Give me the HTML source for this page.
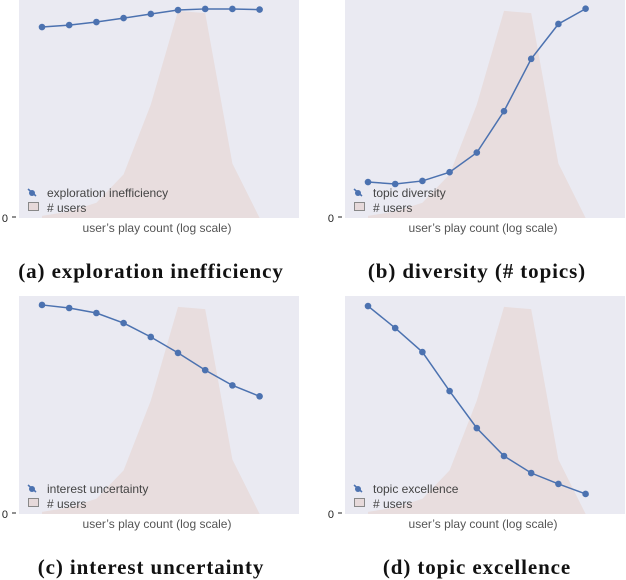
<!DOCTYPE html>
<html><head><meta charset="utf-8"><style>
html,body{margin:0;padding:0;background:#fff;}
svg{display:block;font-family:"Liberation Sans",sans-serif;}
.cap{font-family:"Liberation Serif",serif;font-weight:bold;font-size:21px;letter-spacing:0.9px;fill:#111;}
</style></head><body>
<svg id="chart" width="626" height="580" viewBox="0 0 626 580"></svg>
<script>
const positions = [0,1,2,3,4,5,6,7,8];
const areaPositions = [0,1,2,3,4,5,6,7,8,9];
const userCounts = [0.01,0.03,0.07,0.2,0.52,0.95,0.94,0.25,0.0,0.0];
const seriesA = [0.876,0.885,0.899,0.917,0.936,0.954,0.959,0.959,0.956];
const seriesB = [0.165,0.156,0.17,0.21,0.30,0.49,0.73,0.89,0.96];
const seriesC = [0.959,0.945,0.922,0.876,0.812,0.739,0.66,0.59,0.54];
const seriesD = [0.954,0.853,0.743,0.564,0.394,0.266,0.188,0.138,0.092];
const labels = ["exploration inefficiency","topic diversity","interest uncertainty","topic excellence"];
const captions = ["(a) exploration inefficiency","(b) diversity (# topics)","(c) interest uncertainty","(d) topic excellence"];
const allSeries = [seriesA,seriesB,seriesC,seriesD];

const NS="http://www.w3.org/2000/svg";
const svg=document.getElementById('chart');
function mk(tag,attrs,parent){const e=document.createElementNS(NS,tag);for(const k in attrs)e.setAttribute(k,attrs[k]);(parent||svg).appendChild(e);return e;}
const panels=[{x:19,y:0},{x:345,y:0},{x:19,y:296},{x:345,y:296}];
const W=280,H=218;
panels.forEach((p,pi)=>{
  const g=mk('g',{});
  
  
  const xs=i=>p.x+23+i*27.2;
  const ys=v=>p.y+H-v*H;
  const bg=mk('rect',{x:p.x,y:p.y,width:W,height:H,fill:'#eaeaf2'},g);
  
  
  let d='M'+xs(areaPositions[0])+','+ys(0);
  areaPositions.forEach((a,i)=>{d+=' L'+xs(a)+','+ys(userCounts[i]);});
  d+=' L'+xs(areaPositions[areaPositions.length-1])+','+ys(0)+' Z';
  const ar=mk('path',{d:d,fill:'#e8dbdc',opacity:'0.9'},g);
  
  
  const s=allSeries[pi];
  const ln=mk('polyline',{points:positions.map((q,i)=>xs(q)+','+ys(s[i])).join(' '),fill:'none',stroke:'#4c72b0','stroke-width':1.5},g);
  
  
  positions.forEach((q,i)=>{
    const c=mk('circle',{cx:xs(q),cy:ys(s[i]),r:3.3,fill:'#4c72b0'},g);
    
    
  });
  const t=mk('text',{x:p.x-11,y:p.y+H+4,'font-size':11,fill:'#222','text-anchor':'end'},g);t.textContent='0';
  
  
  mk('line',{x1:p.x-7,x2:p.x-3,y1:p.y+H-1,y2:p.y+H-1,stroke:'#222','stroke-width':1},g);
  const xl=mk('text',{x:p.x+W/2-2,y:p.y+H+14,'font-size':12,fill:'#555','text-anchor':'middle'},g);xl.textContent="user’s play count (log scale)";
  
  
  const lg=mk('g',{},g);
  
  
  mk('line',{x1:p.x+9,y1:p.y+H-29,x2:p.x+17,y2:p.y+H-22,stroke:'#4c72b0','stroke-width':1.5},lg);
  mk('circle',{cx:p.x+13,cy:p.y+H-25,r:3,fill:'#4c72b0'},lg);
  const l1=mk('text',{x:p.x+28,y:p.y+H-21,'font-size':12,fill:'#444'},lg);l1.textContent=labels[pi];
  mk('rect',{x:p.x+9.5,y:p.y+H-15.5,width:10,height:8,fill:'#e6d9da',stroke:'#888','stroke-width':1},lg);
  const l2=mk('text',{x:p.x+28,y:p.y+H-6,'font-size':12,fill:'#444'},lg);l2.textContent='# users';
  const cp=mk('text',{x:p.x+W/2-8,y:p.y+H+60,'text-anchor':'middle',class:'cap'},g);cp.textContent=captions[pi];
  
  
});
</script>
</body></html>
